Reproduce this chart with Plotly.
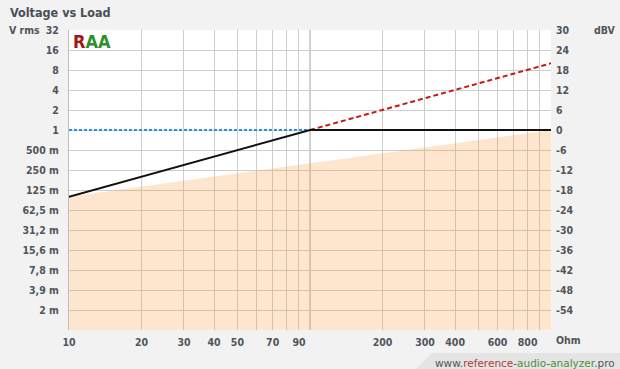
import plotly.graph_objects as go

# ---- data ----
x_grid_ohm = [10, 20, 30, 40, 50, 60, 70, 80, 90, 100, 200, 300, 400, 500, 600, 700, 800, 900]
x_tick_text = ["10", "20", "30", "40", "50", "", "70", "", "90", "", "200", "300", "400", "", "600", "", "800", ""]

y_tick_dbv = [-54, -48, -42, -36, -30, -24, -18, -12, -6, 0, 6, 12, 18, 24, 30]
y_tick_vrms = ["2 m", "3,9 m", "7,8 m", "15,6 m", "31,2 m", "62,5 m", "125 m", "250 m", "500 m",
               "1", "2", "4", "8", "16", "32"]
y_tick_dbv_text = ["-54", "-48", "-42", "-36", "-30", "-24", "-18", "-12", "-6", "0", "6", "12", "18", "24", "30"]

y_min_dbv, y_max_dbv = -60, 30

area_ohm = [10, 20, 50, 100, 200, 500, 1000]
area_dbv = [-20, -17, -13, -10, -7, -3, 0]

load_ohm = [10, 100, 1000]
voltage_dbv = [-20, 0, 0]

limit_ohm = [100, 1000]
limit_dbv = [0, 20]

ref_ohm = [10, 100]
ref_dbv = [0, 0]

# ---- figure ----
FONT = "DejaVu Sans Condensed, Liberation Sans, DejaVu Sans"
TXT = "#50555b"

fig = go.Figure()

fig.add_trace(go.Scatter(x=[area_ohm[0], area_ohm[-1]], y=[y_min_dbv, y_min_dbv],
                         mode="lines", line=dict(width=0), hoverinfo="skip", showlegend=False))
fig.add_trace(go.Scatter(x=area_ohm, y=area_dbv, mode="lines", line=dict(width=0),
                         fill="tonexty", fillcolor="rgba(248,150,60,0.25)",
                         hoverinfo="skip", showlegend=False))

fig.add_trace(go.Scatter(x=ref_ohm, y=ref_dbv, mode="lines",
                         line=dict(color="#2a8cf0", width=2, dash="3px,2px"), showlegend=False))
fig.add_trace(go.Scatter(x=limit_ohm, y=limit_dbv, mode="lines",
                         line=dict(color="#c41a1a", width=2, dash="5px,3px"), showlegend=False))
fig.add_trace(go.Scatter(x=load_ohm, y=voltage_dbv, mode="lines",
                         line=dict(color="#111111", width=2), showlegend=False))
fig.add_trace(go.Scatter(x=[area_ohm[0]], y=[0], yaxis="y2", mode="markers",
                         marker=dict(opacity=0), hoverinfo="skip", showlegend=False))

tickfont = dict(family=FONT, size=10.5, color=TXT, weight="bold")

fig.update_layout(
    width=620, height=369,
    margin=dict(l=69, r=69, t=30, b=39),
    paper_bgcolor="#f2f2f2",
    plot_bgcolor="#ffffff",
    font=dict(family=FONT, color=TXT),
    xaxis=dict(type="log", range=[1, 3], tickmode="array", tickvals=x_grid_ohm, ticktext=x_tick_text,
               showgrid=True, gridcolor="#cdcdcd", gridwidth=1, zeroline=False, showline=False,
               ticks="", tickfont=tickfont, ticklabelstandoff=4),
    yaxis=dict(range=[y_min_dbv, y_max_dbv], tickmode="array", tickvals=y_tick_dbv, ticktext=y_tick_vrms,
               showgrid=True, gridcolor="#cdcdcd", gridwidth=1, zeroline=False,
               showline=True, linecolor="#bdbdbd", linewidth=1,
               ticks="", tickfont=tickfont, ticklabelstandoff=7),
    yaxis2=dict(range=[y_min_dbv, y_max_dbv], overlaying="y", side="right", tickmode="array",
                tickvals=y_tick_dbv, ticktext=y_tick_dbv_text, showgrid=False, zeroline=False,
                showline=False, ticks="", tickfont=tickfont, ticklabelstandoff=4),
)

fig.add_shape(type="line", xref="x", yref="paper", x0=100, x1=100, y0=0, y1=1,
              line=dict(color="#a8a8a8", width=1), layer="below")

fig.add_shape(type="path", xref="paper", yref="paper",
              path="M 0.7199 -0.13 L 0.7531 -0.0767 L 1.15 -0.0767 L 1.15 -0.13 Z",
              fillcolor="#e4e4e4", line=dict(width=0), layer="below")

fig.add_annotation(xref="paper", yref="paper", x=-0.1266, y=1.0567, xanchor="left", yanchor="middle",
                   text="Voltage vs Load", showarrow=False,
                   font=dict(family=FONT, size=12.5, color="#4a4f55", weight="bold"))
fig.add_annotation(xref="paper", yref="paper", x=-0.1286, y=1.0, xanchor="left", yanchor="middle",
                   text="V rms", showarrow=False, font=tickfont)
fig.add_annotation(xref="paper", yref="paper", x=1.085, y=1.0, xanchor="left", yanchor="middle",
                   text="dBV", showarrow=False, font=tickfont)
fig.add_annotation(xref="paper", yref="paper", x=1.037, y=-0.0333, xanchor="center", yanchor="middle",
                   text="Ohm", showarrow=False, font=tickfont)
fig.add_annotation(xref="paper", yref="paper", x=0.0042, y=0.9633, xanchor="left", yanchor="middle",
                   text="<span style='color:#a3161a'>R</span><span style='color:#2f8f2f'>AA</span>",
                   showarrow=False, font=dict(family=FONT, size=18, weight="bold"))
fig.add_annotation(xref="paper", yref="paper", x=1.137, y=-0.11, xanchor="right", yanchor="middle",
                   text="<span style='color:#555'>www.</span><span style='color:#b03a3a'>reference</span>"
                        "<span style='color:#555'>-</span><span style='color:#4f8f3f'>audio</span>"
                        "<span style='color:#555'>-</span><span style='color:#4f8f3f'>analyzer</span>"
                        "<span style='color:#555'>.pro</span>",
                   showarrow=False, font=dict(family="DejaVu Sans", size=10.5))

fig.write_html("out.html")
